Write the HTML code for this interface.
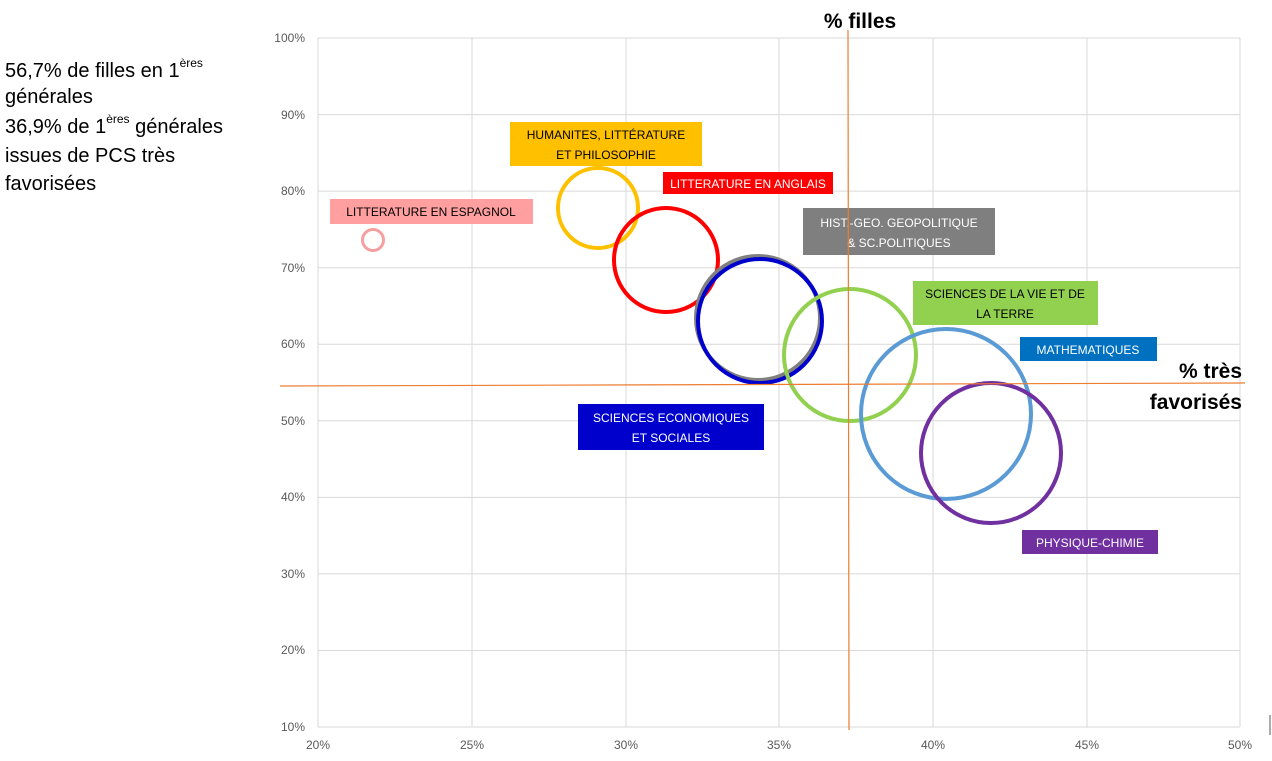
<!DOCTYPE html>
<html><head><meta charset="utf-8"><style>
html,body{margin:0;padding:0;background:#fff}
svg{display:block;font-family:"Liberation Sans",sans-serif}
</style></head><body>
<svg width="1272" height="761" xmlns="http://www.w3.org/2000/svg">
<g stroke="#d9d9d9" stroke-width="1">
<line x1="318" y1="38" x2="318" y2="727"/><line x1="472" y1="38" x2="472" y2="727"/><line x1="626" y1="38" x2="626" y2="727"/><line x1="779" y1="38" x2="779" y2="727"/><line x1="933" y1="38" x2="933" y2="727"/><line x1="1087" y1="38" x2="1087" y2="727"/><line x1="1240" y1="38" x2="1240" y2="727"/>
<line x1="318" y1="38" x2="1240" y2="38"/><line x1="318" y1="114.6" x2="1240" y2="114.6"/><line x1="318" y1="191.1" x2="1240" y2="191.1"/><line x1="318" y1="267.7" x2="1240" y2="267.7"/><line x1="318" y1="344.2" x2="1240" y2="344.2"/><line x1="318" y1="420.8" x2="1240" y2="420.8"/><line x1="318" y1="497.4" x2="1240" y2="497.4"/><line x1="318" y1="573.9" x2="1240" y2="573.9"/><line x1="318" y1="650.5" x2="1240" y2="650.5"/><line x1="318" y1="727" x2="1240" y2="727"/>
</g>
<g fill="#595959" font-size="12" text-anchor="end">
<text x="305" y="42">100%</text><text x="305" y="119">90%</text><text x="305" y="195">80%</text><text x="305" y="272">70%</text><text x="305" y="348">60%</text><text x="305" y="425">50%</text><text x="305" y="501">40%</text><text x="305" y="578">30%</text><text x="305" y="654">20%</text><text x="305" y="731">10%</text>
</g>
<g fill="#595959" font-size="12" text-anchor="middle">
<text x="318" y="749">20%</text><text x="472" y="749">25%</text><text x="626" y="749">30%</text><text x="779" y="749">35%</text><text x="933" y="749">40%</text><text x="1087" y="749">45%</text><text x="1240" y="749">50%</text>
</g>
<g fill="none" stroke-width="4">
<circle cx="373" cy="240" r="10.5" stroke="#f4a0a0" stroke-width="3"/>
<circle cx="598" cy="208" r="40" stroke="#ffc000"/>
<circle cx="666" cy="260" r="52" stroke="#ff0000"/>
<circle cx="758" cy="318" r="62" stroke="#808080"/>
<circle cx="760" cy="321" r="62" stroke="#0000cc"/>
<circle cx="850" cy="355" r="66" stroke="#92d050"/>
<circle cx="946" cy="414" r="85" stroke="#5b9bd5"/>
<circle cx="991" cy="453" r="70" stroke="#7030a0"/>
</g>
<g font-size="12" text-anchor="middle">
<rect x="330" y="199" width="203" height="25" fill="#ff9f9f"/><text x="431" y="216" fill="#000">LITTERATURE  EN ESPAGNOL</text>
<rect x="510" y="122" width="192" height="44" fill="#ffc000"/><text x="606" y="139" fill="#000">HUMANITES,  LITTÉRATURE</text><text x="606" y="159" fill="#000">ET PHILOSOPHIE</text>
<rect x="663" y="172" width="170" height="22" fill="#ff0000"/><text x="748" y="188" fill="#fff">LITTERATURE EN ANGLAIS</text>
<rect x="803" y="208" width="192" height="47" fill="#7f7f7f"/><text x="899" y="227" fill="#fff">HIST.-GEO.  GEOPOLITIQUE</text><text x="899" y="247" fill="#fff">&amp; SC.POLITIQUES</text>
<rect x="913" y="281" width="185" height="44" fill="#92d050"/><text x="1005" y="298" fill="#000">SCIENCES DE LA VIE ET DE</text><text x="1005" y="318" fill="#000">LA TERRE</text>
<rect x="1020" y="337" width="137" height="24" fill="#0070c0"/><text x="1088" y="354" fill="#fff">MATHEMATIQUES</text>
<rect x="578" y="404" width="186" height="46" fill="#0000cc"/><text x="671" y="422" fill="#fff">SCIENCES ECONOMIQUES</text><text x="671" y="442" fill="#fff">ET SOCIALES</text>
<rect x="1022" y="530" width="136" height="24" fill="#7030a0"/><text x="1090" y="547" fill="#fff">PHYSIQUE-CHIMIE</text>
</g>
<line x1="848" y1="30" x2="849" y2="730" stroke="#ed7d31" stroke-width="1.2"/>
<line x1="280" y1="386" x2="1245" y2="383" stroke="#ed7d31" stroke-width="1.2"/>
<text x="860" y="28" font-size="21" font-weight="bold" text-anchor="middle">% filles</text>
<text x="1242" y="378" font-size="21" font-weight="bold" text-anchor="end">% très</text>
<text x="1242" y="409" font-size="21" font-weight="bold" text-anchor="end">favorisés</text>
<g font-size="20" fill="#000">
<text x="5" y="77">56,7% de filles en 1<tspan font-size="12" dy="-10">ères</tspan></text>
<text x="5" y="103">générales</text>
<text x="5" y="133">36,9% de 1<tspan font-size="12" dy="-10">ères</tspan><tspan dy="10"> générales</tspan></text>
<text x="5" y="162">issues de PCS très</text>
<text x="5" y="190">favorisées</text>
</g>
<line x1="1270" y1="715" x2="1270" y2="735" stroke="#595959"/>
</svg>
</body></html>
